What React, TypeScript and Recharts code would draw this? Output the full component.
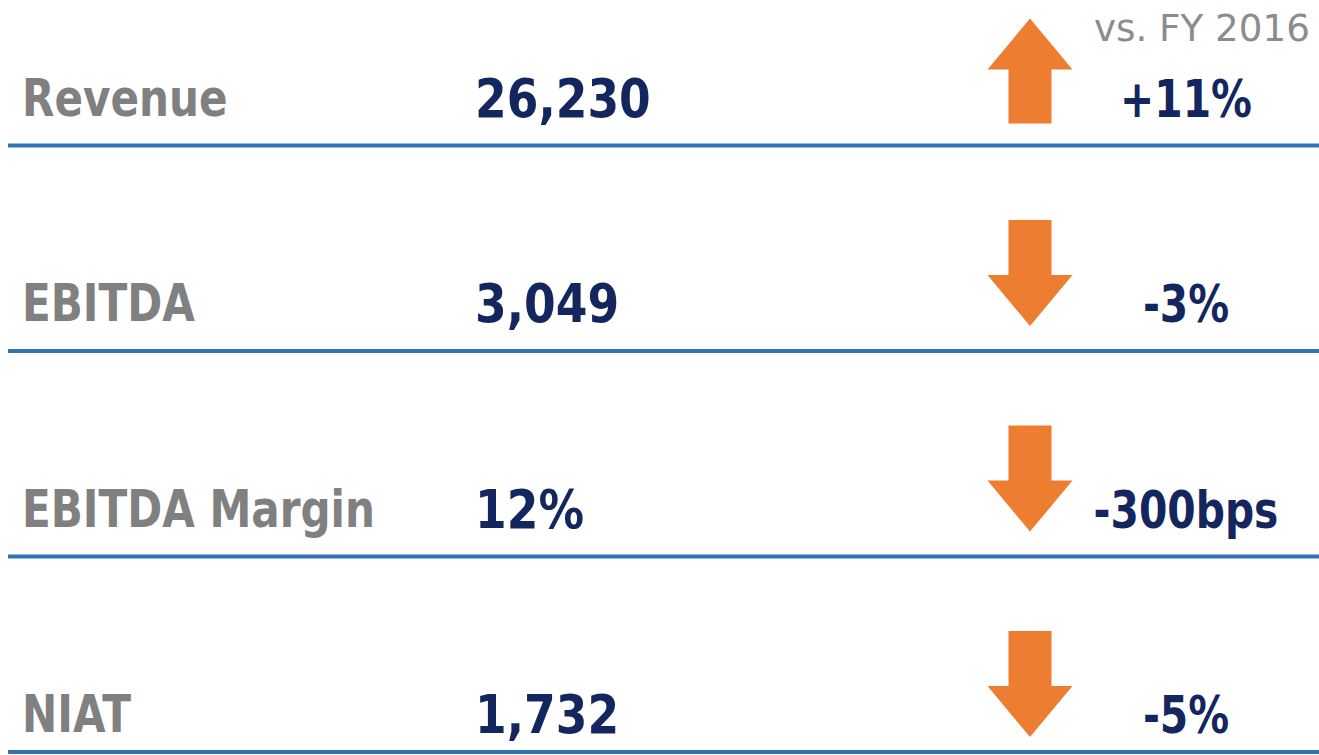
import React from 'react';
import { ComposedChart, Bar, XAxis, YAxis } from 'recharts';

// ---- data ----
const metrics = ['Revenue', 'EBITDA', 'EBITDA Margin', 'NIAT'];
const values = [26230, 3049, 12, 1732];
const valueUnits = ['', '', '%', ''];
const changes = [11, -3, -300, -5];
const changeUnits = ['%', '%', 'bps', '%'];
const comparisonLabel = 'vs. FY 2016';

const data = metrics.map((metric, i) => ({
  metric,
  value: values[i],
  valueLabel: values[i].toLocaleString('en-US') + valueUnits[i],
  change: changes[i],
  changeLabel: (changes[i] > 0 ? '+' : '') + String(changes[i]) + changeUnits[i],
}));

// ---- styles ----
const FONT = "'DejaVu Sans', Verdana, sans-serif";
const WIDTH = 1319;
const VIEW_H = 755;
const CHART_TOP = -4;
const CHART_H = 822;
const LABEL_X = 22;
const VALUE_X = 475;
const ARROW_X = 1030;
const CHANGE_X = 1186;
const ORANGE = '#ED7D31';
const NAVY = '#14265E';
const GRAY = '#808080';
const RULE = '#2E74B5';

function SText({ x, y, sx, size, weight, fill, anchor, children }: any) {
  return (
    <text
      transform={`translate(${x},${y}) scale(${sx},1)`}
      x={0}
      y={0}
      fontFamily={FONT}
      fontSize={size}
      fontWeight={weight}
      fill={fill}
      textAnchor={anchor || 'start'}
    >
      {children}
    </text>
  );
}

function RowShape(props: any) {
  const { y, height, payload } = props;
  const c = y + height / 2;
  const up = payload.change > 0;
  const halfHead = 42.5;
  const halfShaft = 21.5;
  const headH = 51;
  const ax = ARROW_X;
  let pts: number[][];
  if (up) {
    const tip = c - 80;
    const bottom = c + 25;
    const base = tip + headH;
    pts = [
      [ax, tip], [ax + halfHead, base], [ax + halfShaft, base], [ax + halfShaft, bottom],
      [ax - halfShaft, bottom], [ax - halfShaft, base], [ax - halfHead, base],
    ];
  } else {
    const top = c - 84;
    const tip = c + 22;
    const base = tip - headH;
    pts = [
      [ax - halfShaft, top], [ax + halfShaft, top], [ax + halfShaft, base], [ax + halfHead, base],
      [ax, tip], [ax - halfHead, base], [ax - halfShaft, base],
    ];
  }
  const lineY = Math.min(c + 47, VIEW_H - CHART_TOP - 3);
  return (
    <g>
      <SText x={LABEL_X} y={c + 17} sx={0.81} size={52} weight={700} fill={GRAY}>
        {payload.metric}
      </SText>
      <SText x={VALUE_X} y={c + 18} sx={0.86} size={53} weight={700} fill={NAVY}>
        {payload.valueLabel}
      </SText>
      <polygon points={pts.map((p) => p.join(',')).join(' ')} fill={ORANGE} />
      <SText x={CHANGE_X} y={c + 18} sx={0.8} size={51} weight={700} fill={NAVY} anchor="middle">
        {payload.changeLabel}
      </SText>
      <line x1={8} x2={WIDTH} y1={lineY} y2={lineY} stroke={RULE} strokeWidth={4} />
    </g>
  );
}

export default function App() {
  return (
    <div
      style={{
        position: 'fixed',
        left: 0,
        top: 0,
        width: WIDTH,
        height: VIEW_H,
        overflow: 'hidden',
        background: '#ffffff',
      }}
    >
      <div style={{ position: 'absolute', left: 0, top: CHART_TOP }}>
        <ComposedChart
          layout="vertical"
          width={WIDTH}
          height={CHART_H}
          data={data}
          margin={{ top: 0, right: 0, bottom: 0, left: 0 }}
          barCategoryGap="10%"
        >
          <XAxis type="number" hide />
          <YAxis type="category" dataKey="metric" hide />
          <Bar dataKey="change" isAnimationActive={false} shape={RowShape} />
          <text
            transform={`translate(1094,${41 - CHART_TOP}) scale(0.98,1)`}
            x={0}
            y={0}
            fontFamily={FONT}
            fontSize={38}
            fill="#8C8C8C"
          >
            {comparisonLabel}
          </text>
        </ComposedChart>
      </div>
    </div>
  );
}
